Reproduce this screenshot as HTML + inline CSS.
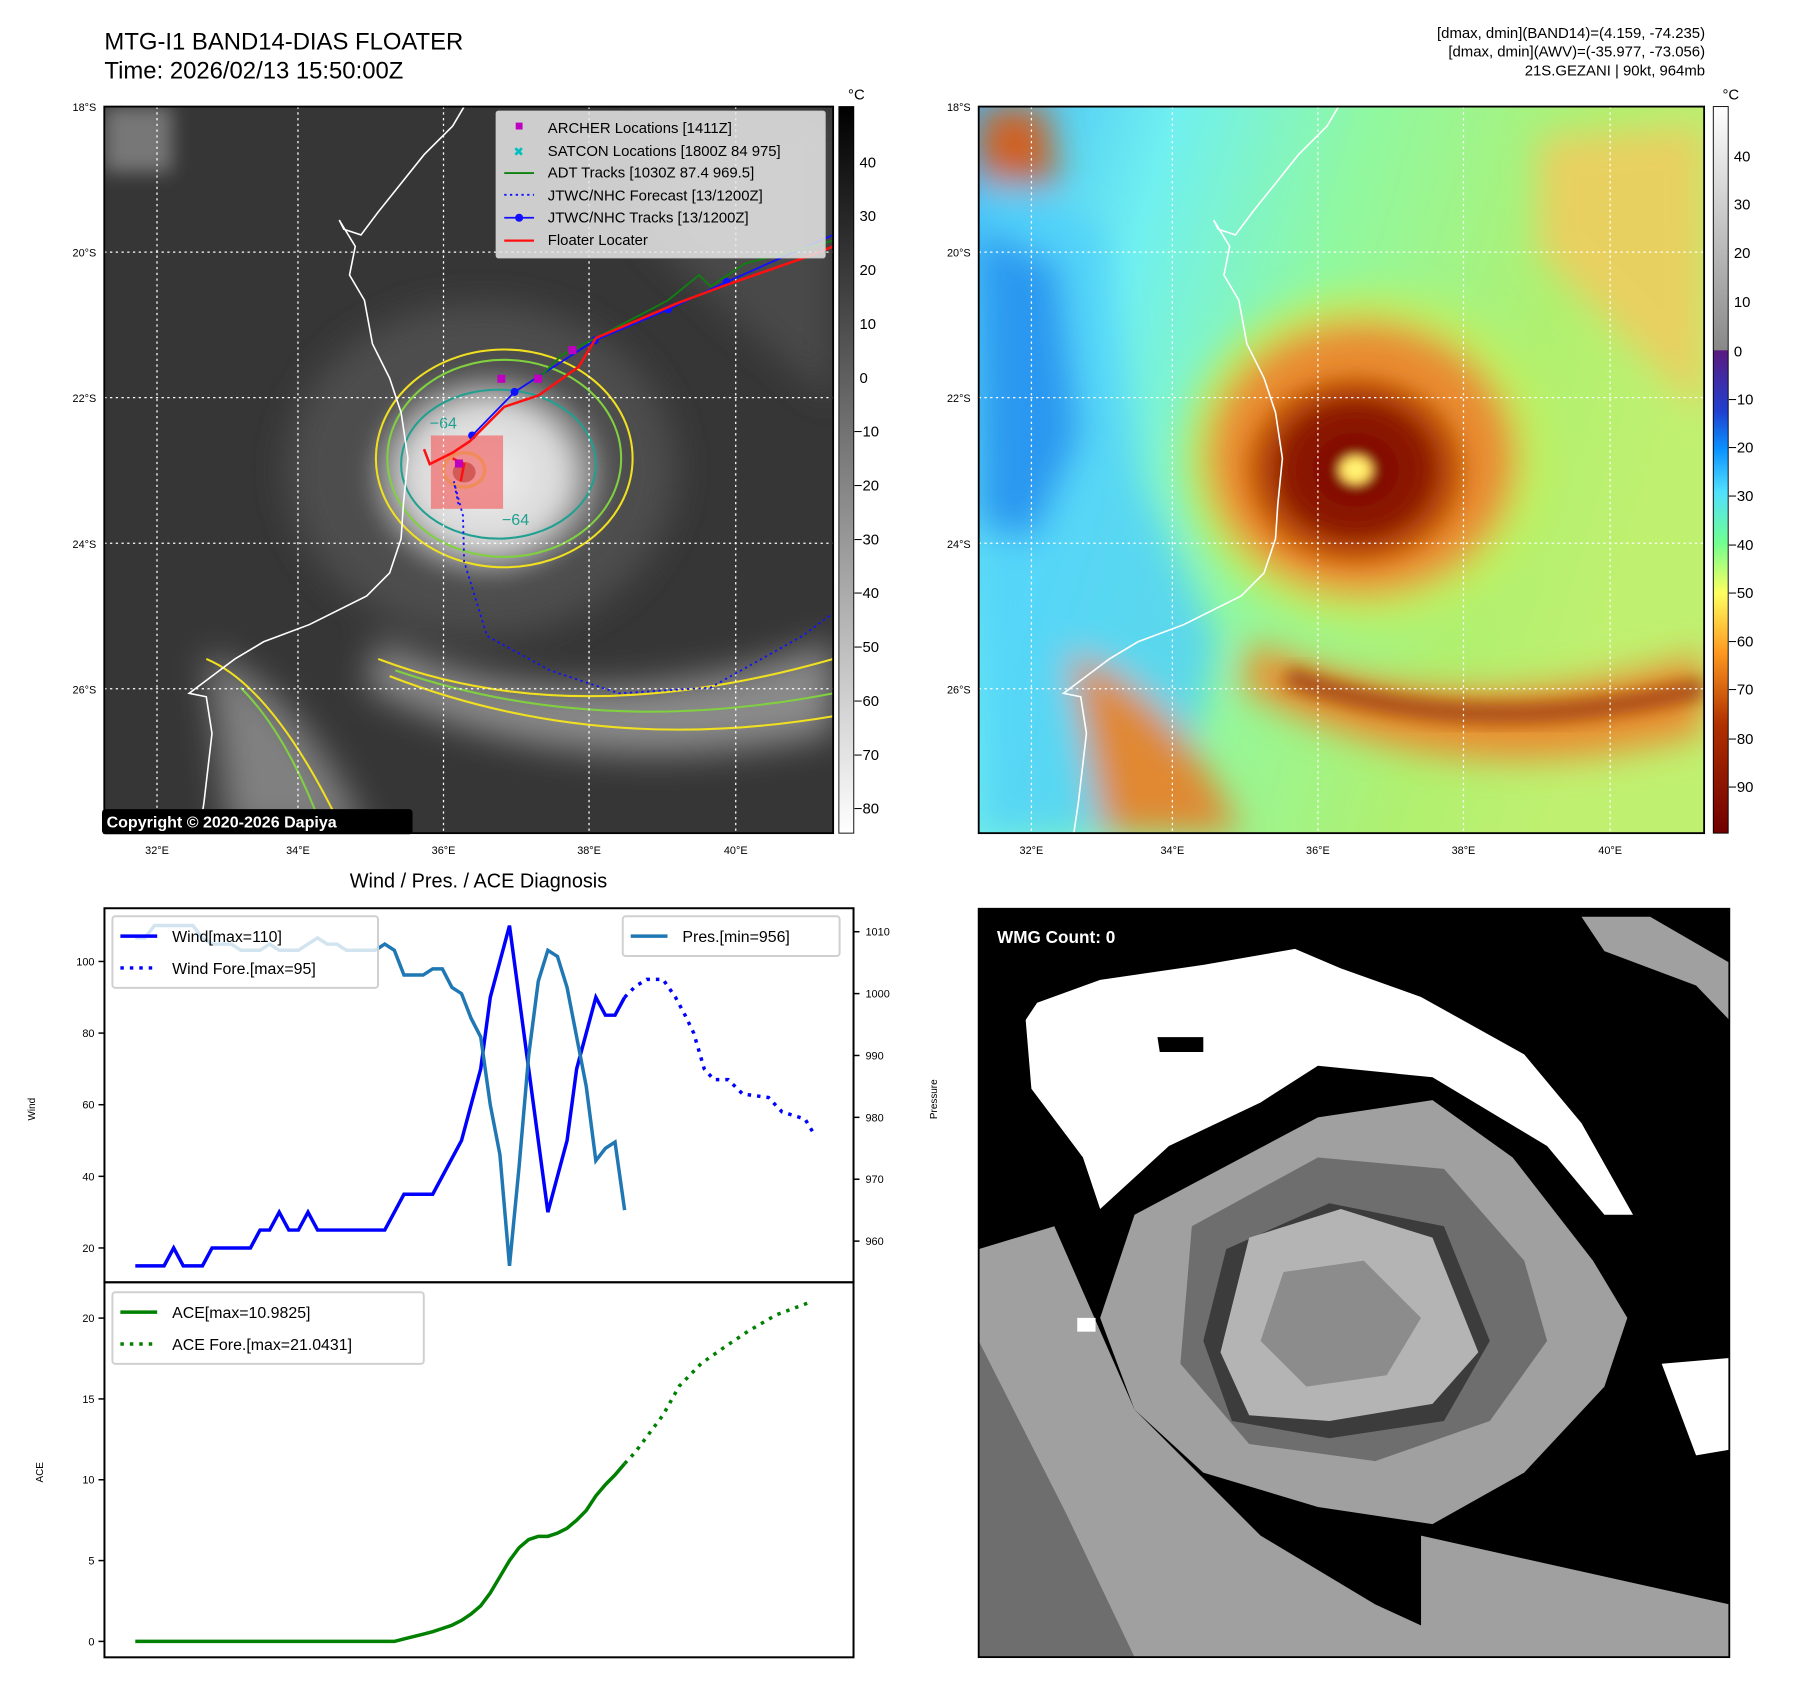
<!DOCTYPE html>
<html><head><meta charset="utf-8"><style>
html,body{margin:0;padding:0;background:#fff}
svg{display:block;font-family:"Liberation Sans","DejaVu Sans",sans-serif}
</style></head><body>
<svg id="root" width="1797" height="1695" viewBox="0 0 1797 1695" xmlns="http://www.w3.org/2000/svg">
<defs>
<filter id="b8" x="-50%" y="-50%" width="200%" height="200%"><feGaussianBlur stdDeviation="8"/></filter>
<filter id="b4" x="-50%" y="-50%" width="200%" height="200%"><feGaussianBlur stdDeviation="4"/></filter>
<filter id="b15" x="-50%" y="-50%" width="200%" height="200%"><feGaussianBlur stdDeviation="15"/></filter>
<clipPath id="c1"><rect x="91" y="93" width="636" height="634"/></clipPath>
<clipPath id="c2"><rect x="91" y="93" width="633" height="634"/></clipPath>
<linearGradient id="gcb1" x1="0" y1="0" x2="0" y2="1"><stop offset="0" stop-color="#000"/><stop offset="1" stop-color="#fff"/></linearGradient>
<linearGradient id="gcb2" x1="0" y1="0" x2="0" y2="1">
<stop offset="0" stop-color="#fff"/><stop offset="0.335" stop-color="#888"/><stop offset="0.336" stop-color="#5a1a80"/>
<stop offset="0.42" stop-color="#2040d0"/><stop offset="0.47" stop-color="#0a90ff"/><stop offset="0.53" stop-color="#50e0ff"/>
<stop offset="0.6" stop-color="#70ff90"/><stop offset="0.67" stop-color="#ffff60"/><stop offset="0.75" stop-color="#ff9a20"/>
<stop offset="0.85" stop-color="#b03000"/><stop offset="1" stop-color="#700000"/></linearGradient>
<radialGradient id="eye1" cx="0.5" cy="0.5" r="0.5"><stop offset="0" stop-color="#f0f0f0"/><stop offset="0.6" stop-color="#d8d8d8"/><stop offset="1" stop-color="#d0d0d0" stop-opacity="0"/></radialGradient>
<radialGradient id="eye2" cx="0.5" cy="0.5" r="0.5"><stop offset="0" stop-color="#ffff80"/><stop offset="0.1" stop-color="#ffe060"/><stop offset="0.18" stop-color="#800800"/><stop offset="0.55" stop-color="#901e00"/><stop offset="0.8" stop-color="#c86010"/><stop offset="1" stop-color="#e08020" stop-opacity="0"/></radialGradient>
<linearGradient id="bg2" x1="0" y1="0" x2="1" y2="0.3"><stop offset="0" stop-color="#40b8f8"/><stop offset="0.25" stop-color="#70f0f0"/><stop offset="0.5" stop-color="#90f8a0"/><stop offset="0.8" stop-color="#b0f070"/><stop offset="1" stop-color="#c0f070"/></linearGradient>
</defs>
<g transform="scale(0.99479)">
<!-- Titles -->
<text x="105" y="50" font-size="24">MTG-I1 BAND14-DIAS FLOATER</text>
<text x="105" y="79" font-size="24">Time: 2026/02/13 15:50:00Z</text>
<g font-size="15" text-anchor="end">
<text x="1714" y="38">[dmax, dmin](BAND14)=(4.159, -74.235)</text>
<text x="1714" y="57">[dmax, dmin](AWV)=(-35.977, -73.056)</text>
<text x="1714" y="76">21S.GEZANI | 90kt, 964mb</text>
</g>

<!-- MAP 1 (grayscale IR) -->
<g transform="scale(1.152)">
<g clip-path="url(#c1)">
<rect x="91" y="93" width="636" height="634" fill="#363636"/>
<g filter="url(#b15)" fill="#4e4e4e">
<ellipse cx="420" cy="410" rx="170" ry="145"/>
<path d="M330,560 Q500,640 727,560 L727,640 Q500,690 320,600Z" fill="#8a8a8a"/>
<path d="M180,570 Q260,600 320,727 L200,727Z" fill="#808080"/>
<path d="M560,100 L727,100 L727,350 Q640,280 560,200Z" fill="#484848"/>
</g>
<ellipse cx="425" cy="415" rx="110" ry="95" fill="url(#eye1)" filter="url(#b8)"/>
<path d="M91,93 L150,93 L150,150 L91,150Z" fill="#777" filter="url(#b8)"/>
<g fill="none" stroke-width="1.8">
<ellipse cx="440" cy="400" rx="112" ry="95" stroke="#f0e020"/>
<ellipse cx="440" cy="400" rx="102" ry="86" stroke="#80d040"/>
<ellipse cx="435" cy="405" rx="85" ry="65" stroke="#20a090"/>
<path d="M330,575 Q500,640 727,575 M340,590 Q520,660 727,625" stroke="#f0e020"/>
<path d="M345,585 Q520,645 727,605" stroke="#80d040"/>
<path d="M180,575 Q240,600 300,727" stroke="#f0e020"/>
<path d="M210,600 Q250,640 280,720" stroke="#80d040"/>
<ellipse cx="405" cy="410" rx="18" ry="15" stroke="#f0e020" stroke-width="3"/>
</g>
<ellipse cx="405" cy="412" rx="10" ry="9" fill="#7a1c10"/>
<rect x="376" y="380" width="63" height="64" fill="#f07070" opacity="0.75"/>
<text x="375" y="374" font-size="14" fill="#20a090">−64</text>
<text x="438" y="458" font-size="14" fill="#20a090">−64</text>
<path d="M405,93 L395,110 L370,135 L350,160 L330,185 L315,205 L300,200 L296,192 L310,215 L305,240 L318,262 L325,300 L340,330 L350,360 L356,400 L352,440 L350,470 L340,500 L320,520 L270,545 L230,560 L205,575 L185,590 L165,605 L180,608 L185,640 L178,700 L174,727" fill="none" stroke="#fff" stroke-width="1.4"/>
<g stroke="#fff" stroke-width="1.1" stroke-dasharray="2,3">
<path d="M137,93V727M260,93V727M387,93V727M514,93V727M642,93V727M91,220H727M91,347H727M91,474H727M91,601H727"/>
</g>
<path d="M400,440 L396,420 L404,450 L405,490 L425,555 L480,585 L540,605 L620,600 L700,555 L727,535" fill="none" stroke="#1010ff" stroke-width="1.6" stroke-dasharray="2,3"/>
<path d="M412,380 L449,342 L519,297 L583,270 L634,246 L727,205" fill="none" stroke="#1010ff" stroke-width="1.6"/>
<g fill="#1010ff"><circle cx="412" cy="380" r="3.5"/><circle cx="449" cy="342" r="3.5"/><circle cx="519" cy="297" r="3.5"/><circle cx="583" cy="270" r="3.5"/><circle cx="634" cy="246" r="3.5"/></g>
<path d="M470,330 L490,310 L520,295 L583,262 L610,240 L620,250 L650,230 L727,210" fill="none" stroke="#108010" stroke-width="1.6"/>
<path d="M370,392 L375,405 L395,395 L410,385 L440,355 L470,345 L505,320 L520,295 L590,265 L630,250 L710,222 L727,215" fill="none" stroke="#ff1010" stroke-width="2.2"/>
<path d="M395,400 L405,405 L402,420" fill="none" stroke="#ff1010" stroke-width="2.2"/>
<g fill="#c000c0"><rect x="434" y="327" width="7" height="7"/><rect x="466" y="327" width="7" height="7"/><rect x="496" y="302" width="7" height="7"/><rect x="397" y="401" width="7" height="7"/></g>
</g>
<rect x="91" y="93" width="636" height="634" fill="none" stroke="#000" stroke-width="1.6"/>
<g>
<rect x="433" y="97" width="287" height="128" fill="#e8e8e8" fill-opacity="0.85" stroke="#ccc" rx="2"/>
<g font-size="13">
<rect x="450" y="107" width="6" height="6" fill="#c000c0"/><text x="478" y="116">ARCHER Locations [1411Z]</text>
<text x="448" y="136" fill="#00c0c0" font-size="11">✖</text><text x="478" y="136">SATCON Locations [1800Z 84 975]</text>
<line x1="440" y1="151" x2="466" y2="151" stroke="#108010" stroke-width="1.6"/><text x="478" y="155">ADT Tracks [1030Z 87.4 969.5]</text>
<line x1="440" y1="170" x2="466" y2="170" stroke="#1010ff" stroke-width="1.6" stroke-dasharray="2,3"/><text x="478" y="175">JTWC/NHC Forecast [13/1200Z]</text>
<line x1="440" y1="190" x2="466" y2="190" stroke="#1010ff" stroke-width="1.6"/><circle cx="453" cy="190" r="3.5" fill="#1010ff"/><text x="478" y="194">JTWC/NHC Tracks [13/1200Z]</text>
<line x1="440" y1="210" x2="466" y2="210" stroke="#ff1010" stroke-width="2"/><text x="478" y="214">Floater Locater</text>
</g></g>
<rect x="89" y="706" width="271" height="22" fill="#000" rx="3"/>
<text x="93" y="722" font-size="14" font-weight="bold" fill="#fff">Copyright © 2020-2026 Dapiya</text>
<g font-size="9.5" text-anchor="end"><text x="84" y="97">18°S</text><text x="84" y="224">20°S</text><text x="84" y="351">22°S</text><text x="84" y="478">24°S</text><text x="84" y="605">26°S</text></g>
<g font-size="9.5" text-anchor="middle"><text x="137" y="745">32°E</text><text x="260" y="745">34°E</text><text x="387" y="745">36°E</text><text x="514" y="745">38°E</text><text x="642" y="745">40°E</text></g>
<rect x="732" y="93" width="13" height="634" fill="url(#gcb1)" stroke="#000" stroke-width="0.8"/>
<text x="740" y="87" font-size="13">°C</text>
<g font-size="13"><text x="750" y="146">40</text><text x="750" y="193">30</text><text x="750" y="240">20</text><text x="750" y="287">10</text><text x="750" y="334">0</text><text x="745" y="381">−10</text><text x="745" y="428">−20</text><text x="745" y="475">−30</text><text x="745" y="522">−40</text><text x="745" y="569">−50</text><text x="745" y="616">−60</text><text x="745" y="663">−70</text><text x="745" y="710">−80</text></g>
</g>

<!-- MAP 2 (color AWV) -->
<g transform="translate(879,0) scale(1.152)">
<g clip-path="url(#c2)">
<rect x="91" y="93" width="633" height="634" fill="url(#bg2)"/>
<g filter="url(#b15)">
<path d="M91,150 L200,200 L230,420 L300,560 L260,727 L91,727Z" fill="#50d0fa" opacity="0.8"/>
<path d="M91,200 L160,230 L180,380 L140,470 L91,460Z" fill="#2a98f0"/>
<ellipse cx="430" cy="400" rx="160" ry="145" fill="#c0f060"/>
<path d="M330,560 Q500,640 724,570 L724,640 Q500,700 320,600Z" fill="#e89030"/>
<path d="M170,570 Q260,600 320,727 L200,727Z" fill="#e08830"/>
<path d="M580,120 L724,110 L724,360 Q660,300 580,220Z" fill="#e8d060"/>
<ellipse cx="425" cy="400" rx="135" ry="120" fill="#e88a30"/>
<path d="M91,93 L150,93 L160,160 L91,160Z" fill="#d06020"/>
</g>
<path d="M360,590 Q520,650 724,600" stroke="#a04010" stroke-width="16" fill="none" filter="url(#b8)"/>
<ellipse cx="420" cy="410" rx="110" ry="95" fill="url(#eye2)" filter="url(#b4)"/>
<path d="M405,93 L395,110 L370,135 L350,160 L330,185 L315,205 L300,200 L296,192 L310,215 L305,240 L318,262 L325,300 L340,330 L350,360 L356,400 L352,440 L350,470 L340,500 L320,520 L270,545 L230,560 L205,575 L185,590 L165,605 L180,608 L185,640 L178,700 L174,727" fill="none" stroke="#fff" stroke-width="1.4"/>
<g stroke="#fff" stroke-width="1.1" stroke-dasharray="2,3">
<path d="M137,93V727M260,93V727M387,93V727M514,93V727M642,93V727M91,220H724M91,347H724M91,474H724M91,601H724"/>
</g>
</g>
<rect x="91" y="93" width="633" height="634" fill="none" stroke="#000" stroke-width="1.6"/>
<g font-size="9.5" text-anchor="end"><text x="84" y="97">18°S</text><text x="84" y="224">20°S</text><text x="84" y="351">22°S</text><text x="84" y="478">24°S</text><text x="84" y="605">26°S</text></g>
<g font-size="9.5" text-anchor="middle"><text x="137" y="745">32°E</text><text x="260" y="745">34°E</text><text x="387" y="745">36°E</text><text x="514" y="745">38°E</text><text x="642" y="745">40°E</text></g>
<rect x="732" y="93" width="13" height="634" fill="url(#gcb2)" stroke="#000" stroke-width="0.8"/>
<text x="740" y="87" font-size="13">°C</text>
<g font-size="13"><text x="750" y="141">40</text><text x="750" y="183">30</text><text x="750" y="225">20</text><text x="750" y="268">10</text><text x="750" y="311">0</text><text x="745" y="353">−10</text><text x="745" y="395">−20</text><text x="745" y="437">−30</text><text x="745" y="480">−40</text><text x="745" y="522">−50</text><text x="745" y="564">−60</text><text x="745" y="606">−70</text><text x="745" y="649">−80</text><text x="745" y="691">−90</text></g>
</g>

<!-- WMG panel -->
<g transform="scale(1.152)">
<rect x="854" y="793" width="655" height="653" fill="#000"/>
<path d="M895,890 L905,875 L960,855 L1050,842 L1130,828 L1170,845 L1240,870 L1330,920 L1380,980 L1425,1060 L1400,1060 L1350,1000 L1250,940 L1150,930 L1100,962 L1020,1000 L960,1055 L945,1010 L900,950Z" fill="#fff"/>
<path d="M1010,905 L1050,905 L1050,918 L1012,918Z" fill="#000"/>
<path d="M854,1090 L920,1070 L990,1230 L1100,1340 L1200,1400 L1300,1446 L854,1446Z" fill="#a0a0a0"/>
<path d="M854,1170 L930,1320 L990,1446 L854,1446Z" fill="#6e6e6e"/>
<path d="M990,1060 L1150,975 L1250,960 L1320,1010 L1390,1100 L1420,1150 L1400,1210 L1330,1285 L1250,1330 L1150,1315 L1050,1285 L990,1230 L960,1150Z" fill="#a0a0a0"/>
<path d="M1040,1070 L1150,1010 L1260,1020 L1330,1100 L1350,1170 L1300,1240 L1200,1275 L1090,1260 L1030,1190Z" fill="#6e6e6e"/>
<path d="M1070,1090 L1160,1050 L1260,1070 L1300,1170 L1260,1240 L1160,1255 L1075,1240 L1050,1170Z" fill="#3c3c3c"/>
<path d="M1090,1080 L1170,1055 L1250,1080 L1290,1180 L1250,1225 L1160,1240 L1090,1235 L1065,1180Z" fill="#b4b4b4"/>
<path d="M1120,1110 L1190,1100 L1240,1150 L1210,1200 L1140,1210 L1100,1170Z" fill="#8c8c8c"/>
<path d="M1380,800 L1440,800 L1509,840 L1509,890 L1480,860 L1400,830Z" fill="#a0a0a0"/>
<path d="M1240,1340 L1509,1400 L1509,1446 L1240,1446Z" fill="#a0a0a0"/>
<path d="M1450,1190 L1509,1185 L1509,1265 L1480,1270Z" fill="#fff"/>
<rect x="940" y="1150" width="16" height="12" fill="#fff"/>
<rect x="854" y="793" width="655" height="653" fill="none" stroke="#000" stroke-width="1.6"/>
<text x="870" y="823" font-size="15" font-weight="bold" fill="#fff">WMG Count: 0</text>
</g>

<text x="481" y="892" font-size="20" text-anchor="middle">Wind / Pres. / ACE Diagnosis</text>
<g id="chart"></g>
</g>
</svg>
<script>
const windIdx=[0,1,2,3,4,5,6,7,8,9,10,11,12,13,14,15,16,17,18,19,20,21,22,23,24,25,26,27,28,29,30,31,32,33,34,35,36,37,38,39,40,41,42,43,44,45,46,47,48,49,50,51];
const windObs=[15,15,15,15,20,15,15,15,20,20,20,20,20,25,25,30,25,25,30,25,25,25,25,25,25,25,25,30,35,35,35,35,40,45,50,60,70,90,100,110,90,70,50,30,40,50,70,80,90,85,85,90];
const presObs=[1009,1009,1011,1011,1011,1011,1011,1009,1008,1008,1008,1007,1007,1007,1008,1007,1007,1007,1008,1009,1008,1008,1007,1007,1007,1007,1008,1007,1003,1003,1003,1004,1004,1001,1000,996,993,982,974,956,972,990,1002,1007,1006,1001,993,985,973,975,976,965];
const aceObs=[0,0,0,0,0,0,0,0,0,0,0,0,0,0,0,0,0,0,0,0,0,0,0,0,0,0,0,0,0.15,0.3,0.45,0.6,0.8,1.0,1.3,1.7,2.2,3.0,4.0,5.0,5.8,6.3,6.5,6.5,6.7,7.0,7.5,8.1,9.0,9.7,10.3,11.0];
const fcstIdx=[51,52.1,53.3,55,56.3,57.3,58.2,59.3,60.3,61.8,63.3,66,67.4,69.8,70.7];
const windFcst=[90,93,95,95,90,85,80,70,67,67,63,62,58,56,52];
const aceFcstIdx=[51,52.1,55,56.7,59,61.4,63.9,66.8,70.4];
const aceFcst=[11,11.7,14,15.8,17.2,18.2,19.2,20.2,21];
const windTicks=[20,40,60,80,100];
const presTicks=[960,970,980,990,1000,1010];
const aceTicks=[0,5,10,15,20];

const NS='http://www.w3.org/2000/svg';
const g=document.getElementById('chart');
const L=105,R=858,T1=913,B1=1289,T2=1289,B2=1666;
const xs=i=>136+i*9.645;
const yW=v=>966.5+(100-v)*3.6;
const yP=v=>936.6+(1010-v)*6.22;
const yA=v=>1650-v*16.25;
function mk(tag,at,parent){const e=document.createElementNS(NS,tag);for(const k in at)e.setAttribute(k,at[k]);(parent||g).appendChild(e);return e;}
function pts(xa,ya,fx,fy){return xa.map((x,i)=>fx(x)+','+fy(ya[i])).join(' ');}

let e;
e=mk('polyline',{points:pts(windIdx,windObs,xs,yW),fill:'none',stroke:'#0000ff','stroke-width':3.5});


e=mk('polyline',{points:pts(fcstIdx,windFcst,xs,yW),fill:'none',stroke:'#0000ff','stroke-width':3.5,'stroke-dasharray':'3.5,6'});


e=mk('polyline',{points:pts(windIdx,presObs,xs,yP),fill:'none',stroke:'#1f77b4','stroke-width':3.5});


e=mk('polyline',{points:pts(windIdx,aceObs,xs,yA),fill:'none',stroke:'#008000','stroke-width':3.5});


e=mk('polyline',{points:pts(aceFcstIdx,aceFcst,xs,yA),fill:'none',stroke:'#008000','stroke-width':3.5,'stroke-dasharray':'3.5,6'});



e=mk('rect',{x:L,y:T1,width:R-L,height:B1-T1,fill:'none',stroke:'#000','stroke-width':2});


e=mk('rect',{x:L,y:T2,width:R-L,height:B2-T2,fill:'none',stroke:'#000','stroke-width':2});



windTicks.forEach(v=>{mk('line',{x1:L-6,x2:L,y1:yW(v),y2:yW(v),stroke:'#000','stroke-width':1.5});
e=mk('text',{x:L-10,y:yW(v)+4,'font-size':11,'text-anchor':'end'});e.textContent=v;

});
presTicks.forEach(v=>{mk('line',{x1:R,x2:R+6,y1:yP(v),y2:yP(v),stroke:'#000','stroke-width':1.5});
e=mk('text',{x:R+12,y:yP(v)+4,'font-size':11});e.textContent=v;

});
aceTicks.forEach(v=>{mk('line',{x1:L-6,x2:L,y1:yA(v),y2:yA(v),stroke:'#000','stroke-width':1.5});
e=mk('text',{x:L-10,y:yA(v)+4,'font-size':11,'text-anchor':'end'});e.textContent=v;

});

e=mk('text',{x:0,y:0,'font-size':10,transform:'translate(35,1115) rotate(-90)','text-anchor':'middle'});e.textContent='Wind';


e=mk('text',{x:0,y:0,'font-size':10,transform:'translate(942,1105) rotate(-90)','text-anchor':'middle'});e.textContent='Pressure';


e=mk('text',{x:0,y:0,'font-size':10,transform:'translate(43,1480) rotate(-90)','text-anchor':'middle'});e.textContent='ACE';



function legend(x,y,w,items,name){
 const lg=mk('g',{});
 
 
 mk('rect',{x:x,y:y,width:w,height:items.length*32+8,fill:'#fff','fill-opacity':0.8,stroke:'#d0d0d0','stroke-width':2,rx:3},lg);
 items.forEach((it,k)=>{const yy=y+20+k*32;
  mk('line',{x1:x+8,x2:x+45,y1:yy,y2:yy,stroke:it[1],'stroke-width':3.5,'stroke-dasharray':it[2]?'3.5,6':'none'},lg);
  const t=mk('text',{x:x+60,y:yy+6,'font-size':16},lg);t.textContent=it[0];});
}
legend(113,921,267,[['Wind[max=110]','#0000ff',0],['Wind Fore.[max=95]','#0000ff',1]],'wind-legend');
legend(626,921,218,[['Pres.[min=956]','#1f77b4',0]],'pressure-legend');
legend(113,1299,313,[['ACE[max=10.9825]','#008000',0],['ACE Fore.[max=21.0431]','#008000',1]],'ace-legend');
</script>
</body></html>
